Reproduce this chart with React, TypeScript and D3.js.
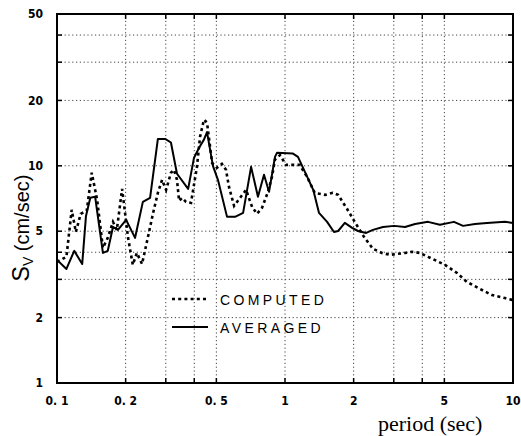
import { line, scaleLog } from 'd3';

// Velocity response spectra, log-log.

const avgPeriod = [
  0.1, 0.11, 0.119, 0.129, 0.134, 0.14, 0.147, 0.159, 0.167, 0.176, 0.185, 0.201, 0.22, 0.238, 0.256, 0.277, 0.298,
  0.316, 0.336, 0.376, 0.399, 0.42, 0.441, 0.455, 0.483, 0.508, 0.557, 0.604, 0.655, 0.71, 0.761, 0.809, 0.851, 0.904,
  0.923, 1.08, 1.14, 1.33, 1.41, 1.53, 1.64, 1.71, 1.83, 1.97, 2.09, 2.27, 2.43, 2.69, 3.01, 3.36, 3.72, 4.24, 4.78,
  5.51, 6.04, 6.81, 7.69, 9.22, 10,
];
const avgSv = [
  3.69, 3.35, 4.06, 3.53, 5.88, 7.12, 7.2, 3.97, 4.06, 5.23, 5.07, 5.64, 4.66, 6.82, 7.12, 13.3, 13.3, 12.8, 9.19, 7.83,
  10.9, 12.1, 13.2, 14.3, 10.0, 8.62, 5.82, 5.82, 6.07, 9.89, 7.2, 9.09, 7.59, 11.0, 11.5, 11.4, 11.0, 7.75, 6.07, 5.52,
  4.96, 5.01, 5.46, 5.18, 5.01, 4.91, 5.07, 5.23, 5.29, 5.23, 5.4, 5.52, 5.35, 5.52, 5.29, 5.4, 5.46, 5.52, 5.46,
];

const compPeriod = [
  0.1, 0.11, 0.116, 0.121, 0.127, 0.135, 0.142, 0.15, 0.159, 0.167, 0.176, 0.183, 0.193, 0.205, 0.215, 0.224, 0.236,
  0.248, 0.264, 0.277, 0.289, 0.301, 0.316, 0.326, 0.336, 0.343, 0.354, 0.368, 0.387, 0.411, 0.424, 0.441, 0.455, 0.479,
  0.503, 0.529, 0.551, 0.568, 0.598, 0.635, 0.675, 0.717, 0.754, 0.793, 0.842, 0.877, 0.904, 0.951, 1.01, 1.16, 1.25,
  1.35, 1.5, 1.62, 1.71, 1.87, 2.01, 2.22, 2.43, 2.66, 2.89, 3.1, 3.36, 3.61, 3.91, 4.24, 5.03, 5.68, 6.28, 7.17, 8.09,
  9.22, 10,
];
const compSv = [
  3.61, 3.81, 6.27, 4.96, 6.01, 6.2, 9.29, 6.97, 4.19, 4.66, 5.52, 5.07, 7.83, 4.66, 3.5, 3.97, 3.53, 4.47, 6.07, 7.51,
  8.62, 7.75, 9.29, 9.58, 8.62, 6.9, 7.12, 6.82, 6.75, 9.89, 13.6, 16.3, 15.8, 10.3, 9.79, 10.2, 9.58, 8.0, 6.54, 7.12,
  7.75, 6.47, 6.01, 6.4, 7.59, 8.9, 10.7, 11.2, 10.1, 10.1, 8.9, 7.51, 7.35, 7.51, 7.35, 6.34, 5.58, 4.71, 4.15, 3.97,
  3.89, 3.93, 3.97, 4.02, 3.97, 3.81, 3.5, 3.21, 2.92, 2.71, 2.54, 2.46, 2.41,
];

const xGrid = [0.2, 0.3, 0.4, 0.5, 1, 2, 3, 4, 5];
const yGrid = [2, 3, 4, 5, 10, 20, 30, 40];
const xTicks = [0.1, 0.2, 0.5, 1, 2, 5, 10];
const xTickText = ['0. 1', '0. 2', '0. 5', '1', '2', '5', '10'];
const yTicks = [1, 2, 5, 10, 20, 50];

const W = 521;
const H = 436;
const m = { left: 57, right: 8, top: 14, bottom: 53 };

type Pt = [number, number];

export default function App() {
  const x = scaleLog().domain([0.1, 10]).range([m.left, W - m.right]);
  const y = scaleLog().domain([1, 50]).range([H - m.bottom, m.top]);
  const ln = line<Pt>()
    .x((d) => x(d[0]))
    .y((d) => y(d[1]));
  const avg: Pt[] = avgPeriod.map((p, i) => [p, avgSv[i]!]);
  const comp: Pt[] = compPeriod.map((p, i) => [p, compSv[i]!]);
  const x0 = m.left;
  const x1 = W - m.right;
  const y0 = H - m.bottom;
  const y1 = m.top;
  const tickFont = { fontFamily: '"Liberation Sans Narrow", "DejaVu Sans Condensed", "Liberation Sans", sans-serif', fontSize: 12, fontWeight: 700 };

  return (
    <svg width={W} height={H} viewBox={`0 0 ${W} ${H}`} style={{ position: 'absolute', left: 0, top: 0, background: '#fff' }}>
      {/* dotted grid */}
      <g stroke="#444" strokeWidth={1} strokeDasharray="1.2 2.6">
        {xGrid.map((v) => (
          <line key={`gx${v}`} x1={x(v)} x2={x(v)} y1={y0} y2={y1} />
        ))}
        {yGrid.map((v) => (
          <line key={`gy${v}`} x1={x0} x2={x1} y1={y(v)} y2={y(v)} />
        ))}
      </g>
      {/* inner ticks */}
      <g stroke="#000" strokeWidth={1.5}>
        {xGrid.map((v) => (
          <g key={`tx${v}`}>
            <line x1={x(v)} x2={x(v)} y1={y0} y2={y0 - 5} />
            <line x1={x(v)} x2={x(v)} y1={y1} y2={y1 + 5} />
          </g>
        ))}
        {yGrid.map((v) => (
          <g key={`ty${v}`}>
            <line x1={x0} x2={x0 + 5} y1={y(v)} y2={y(v)} />
            <line x1={x1} x2={x1 - 5} y1={y(v)} y2={y(v)} />
          </g>
        ))}
      </g>
      {/* series */}
      <path d={ln(comp) ?? undefined} fill="none" stroke="#000" strokeWidth={2.6} strokeDasharray="3 3.2" />
      <path d={ln(avg) ?? undefined} fill="none" stroke="#000" strokeWidth={2} strokeLinejoin="round" />
      {/* frame */}
      <rect x={x0} y={y1} width={x1 - x0} height={y0 - y1} fill="none" stroke="#000" strokeWidth={2} />
      {/* tick labels */}
      {xTicks.map((v, i) => (
        <text key={`lx${v}`} x={x(v)} y={y0 + 22} textAnchor="middle" style={tickFont}>
          {xTickText[i]}
        </text>
      ))}
      {yTicks.map((v) => (
        <text key={`ly${v}`} x={43} y={y(v)} dy="0.35em" textAnchor="end" style={tickFont}>
          {v}
        </text>
      ))}
      {/* axis titles */}
      <text
        transform="translate(29,228) rotate(-90)"
        textAnchor="middle"
        style={{ fontFamily: '"Liberation Sans", Arial, sans-serif', fontSize: 20 }}
      >
        <tspan style={{ fontSize: 23 }}>S</tspan>
        <tspan dy={4} style={{ fontSize: 14 }}>V</tspan>
        <tspan dy={-4}> (cm/sec)</tspan>
      </text>
      <text x={378} y={431} style={{ fontFamily: '"Liberation Serif", "DejaVu Serif", serif', fontSize: 22 }}>
        period (sec)
      </text>
      {/* legend */}
      <line x1={172} x2={208} y1={299} y2={299} stroke="#000" strokeWidth={2.6} strokeDasharray="3 3.2" />
      <line x1={172} x2={208} y1={327} y2={327} stroke="#000" strokeWidth={2} />
      <g style={{ fontFamily: '"Liberation Sans", Arial, sans-serif', fontSize: 14, letterSpacing: 3.4 }}>
        <text x={220} y={305}>COMPUTED</text>
        <text x={220} y={333}>AVERAGED</text>
      </g>
    </svg>
  );
}
